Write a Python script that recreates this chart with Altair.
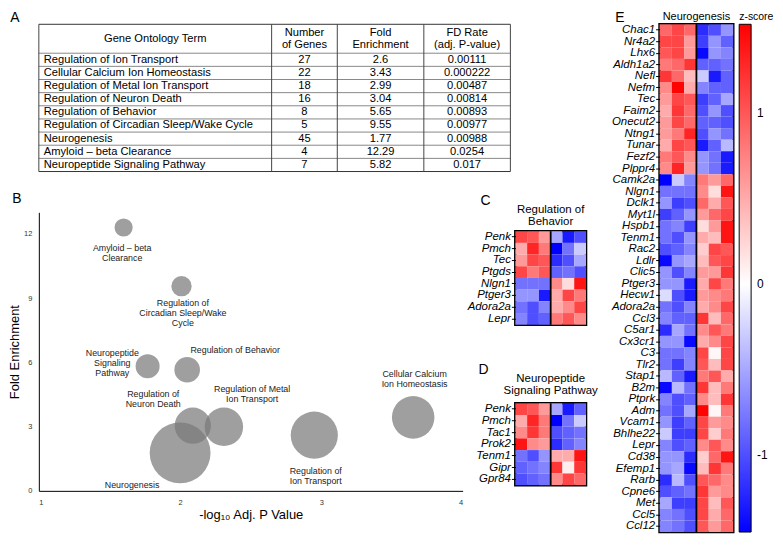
import altair as alt
import pandas as pd

FONT = "Liberation Sans"

# ---------------- Panel A: GO table ----------------
go_terms = ["Regulation of Ion Transport", "Cellular Calcium Ion Homeostasis",
            "Regulation of Metal Ion Transport", "Regulation of Neuron Death",
            "Regulation of Behavior", "Regulation of Circadian Sleep/Wake Cycle",
            "Neurogenesis", "Amyloid – beta Clearance", "Neuropeptide Signaling Pathway"]
n_genes = [27, 22, 18, 16, 8, 5, 45, 4, 7]
fold_enrichment = [2.6, 3.43, 2.99, 3.04, 5.65, 9.55, 1.77, 12.29, 5.82]
fd_rate = ["0.00111", "0.000222", "0.00487", "0.00814", "0.00893", "0.00977",
           "0.00988", "0.0254", "0.017"]
table_headers = ["Gene Ontology Term", "Number\nof Genes", "Fold\nEnrichment",
                 "FD Rate\n(adj. P-value)"]

# ---------------- Panel B: bubble chart ----------------
neg_log10_p = [2.95, 3.65, 2.31, 2.09, 2.05, 2.01, 2.00, 1.60, 1.77]
bubble_label_text = ["Regulation of\nIon Transport", "Cellular Calcium\nIon Homeostasis",
                     "Regulation of Metal\nIon Transport", "Regulation of\nNeuron Death",
                     "Regulation of Behavior", "Regulation of\nCircadian Sleep/Wake\nCycle",
                     "Neurogenesis", "Amyloid – beta\nClearance",
                     "Neuropeptide\nSignaling\nPathway"]
# anchor (first text line) of each bubble label, in data units
bubble_label_x = [2.96, 3.66, 2.51, 1.81, 2.39, 2.02, 1.66, 1.59, 1.52]
bubble_label_y = [0.93, 5.43, 4.74, 4.50, 6.59, 8.77, 0.28, 11.33, 6.45]

# ---------------- Heatmaps (z-scores; PBS x3, ZIKV x3) ----------------
samples = ["PBS", "PBS", "PBS", "ZIKV", "ZIKV", "ZIKV"]

behavior_title = "Regulation of\nBehavior"
behavior_genes = ["Penk", "Pmch", "Tec", "Ptgds", "Nlgn1", "Ptger3", "Adora2a", "Lepr"]
behavior_z = [
    [1.1, 1.0, 0.6, -0.5, -1.3, -1.0],
    [0.5, 1.3, 0.8, -1.5, -0.8, -0.3],
    [0.6, 1.1, 1.0, -1.2, -1.0, -0.5],
    [1.1, 0.8, 1.0, -0.9, -0.8, -1.0],
    [-0.8, -0.8, -0.8, 0.7, 0.2, 1.4],
    [-0.6, -0.6, -1.3, 0.5, 1.1, 0.8],
    [-0.8, -1.0, -0.7, 0.5, 0.7, 1.1],
    [-0.7, -1.0, -0.9, 0.8, 1.0, 0.7],
]

neuropep_title = "Neuropeptide\nSignaling Pathway"
neuropep_genes = ["Penk", "Pmch", "Tac1", "Prok2", "Tenm1", "Gipr", "Gpr84"]
neuropep_z = [
    [1.1, 1.0, 0.6, -0.5, -1.3, -0.9],
    [0.5, 1.3, 0.8, -1.5, -0.8, -0.3],
    [0.7, 1.2, 0.8, -1.0, -0.9, -0.8],
    [1.4, 0.7, 0.6, -1.2, -0.9, -0.7],
    [-0.8, -1.0, -0.6, 0.5, 0.5, 1.4],
    [-0.9, -0.8, -0.7, 1.2, 0.1, 1.2],
    [-1.0, -0.9, -0.8, 0.7, 1.1, 0.9],
]

neuro_title = "Neurogenesis"
neuro_genes = ["Chac1", "Nr4a2", "Lhx6", "Aldh1a2", "Nefl", "Nefm", "Tec", "Faim2",
               "Onecut2", "Ntng1", "Tunar", "Fezf2", "Plppr4", "Camk2a", "Nlgn1", "Dclk1",
               "Myt1l", "Hspb1", "Tenm1", "Rac2", "Ldlr", "Clic5", "Ptger3", "Hecw1",
               "Adora2a", "Ccl3", "C5ar1", "Cx3cr1", "C3", "Tlr2", "Stap1", "B2m", "Ptprk",
               "Adm", "Vcam1", "Bhlhe22", "Lepr", "Cd38", "Efemp1", "Rarb", "Cpne6", "Met",
               "Ccl5", "Ccl12"]
neuro_z = [
    [0.9, 1.1, 0.9, -1.2, -1.0, -0.6],
    [1.1, 1.1, 0.6, -1.1, -0.6, -0.9],
    [1.0, 1.1, 0.6, -1.4, -0.6, -0.7],
    [0.8, 0.9, 1.2, -0.9, -0.9, -0.8],
    [1.2, 0.9, 0.4, -0.3, -1.3, -0.9],
    [0.7, 1.5, 0.5, -0.7, -0.9, -0.9],
    [0.6, 1.1, 1.0, -1.1, -0.9, -0.5],
    [0.5, 1.2, 0.9, -1.0, -0.6, -1.0],
    [0.6, 1.1, 0.9, -0.9, -0.9, -1.0],
    [0.6, 0.8, 1.3, -1.0, -0.6, -0.8],
    [0.5, 1.1, 1.0, -1.3, -0.9, -0.4],
    [0.8, 1.0, 0.7, -0.6, -0.8, -1.3],
    [0.7, 1.3, 0.6, -0.6, -0.8, -1.3],
    [-1.5, -0.3, -0.7, 0.8, 0.6, 0.9],
    [-0.8, -0.8, -0.8, 0.7, 0.2, 1.4],
    [-0.6, -1.1, -1.0, 0.9, 0.5, 1.0],
    [-1.1, -0.9, -0.6, 0.6, 0.9, 1.1],
    [-0.8, -0.7, -1.1, 0.2, 0.6, 1.4],
    [-0.8, -1.0, -0.6, 0.5, 0.4, 1.4],
    [-1.0, -0.9, -0.7, 0.3, 1.1, 1.0],
    [-1.4, -0.6, -0.5, 0.4, 1.0, 1.1],
    [-0.6, -1.0, -0.7, 0.6, 0.6, 1.2],
    [-0.6, -0.6, -1.3, 0.5, 1.1, 0.8],
    [-0.2, -1.0, -1.3, 0.6, 0.7, 0.8],
    [-0.8, -1.0, -0.7, 0.5, 0.7, 1.1],
    [-0.7, -0.9, -0.9, 1.2, 0.4, 0.9],
    [-1.2, -0.5, -0.8, 0.7, 1.0, 0.8],
    [-0.6, -0.6, -1.4, 0.5, 0.7, 1.1],
    [-0.8, -0.8, -0.7, 1.1, 0.05, 1.1],
    [-0.8, -1.1, -0.7, 1.0, 0.4, 1.1],
    [-0.4, -0.9, -1.3, 0.8, 1.0, 0.5],
    [-1.4, -0.4, -0.8, 1.2, 0.4, 0.8],
    [-0.7, -1.0, -0.9, 0.7, 0.4, 1.2],
    [-0.8, -1.0, -0.5, 1.5, 0.05, 0.8],
    [-0.6, -1.1, -0.9, 1.1, 0.6, 0.7],
    [-0.3, -1.1, -1.1, 1.1, 0.3, 0.8],
    [-0.7, -1.0, -0.9, 0.7, 1.0, 0.7],
    [-0.6, -0.6, -1.2, 0.3, 0.9, 1.4],
    [-0.6, -0.5, -1.4, 0.4, 1.2, 0.8],
    [-1.2, -0.4, -1.0, 1.0, 0.9, 0.7],
    [-1.0, -0.9, -0.8, 1.2, 0.6, 0.7],
    [-0.5, -1.1, -1.1, 1.1, 0.4, 1.0],
    [-0.7, -0.8, -1.0, 1.1, 0.5, 0.9],
    [-0.7, -0.8, -1.0, 1.0, 0.6, 0.9],
]

zscale = alt.Scale(domain=[-1.45, 0, 1.52], range=["#0000ff", "#ffffff", "#ff0000"],
                   interpolate="rgb", clamp=True)


def text_layer(text, dx, dy, size=14, line_h=12.5, align="center"):
    return alt.Chart(pd.DataFrame({"t": [text]})).mark_text(
        fontSize=size, align=align, baseline="middle", color="black",
        lineBreak="\n", lineHeight=line_h
    ).encode(text="t:N", x=alt.value(dx), y=alt.value(dy))


# ---------------- build table ----------------
col_w = [234, 66, 87, 87]
col_x = [0]
for w in col_w:
    col_x.append(col_x[-1] + w)
TABLE_H = 148
HEADER_U = 2.2
n_rows = len(go_terms)
tot_u = HEADER_U + n_rows
px_per_u = TABLE_H / tot_u
LINE_H = 12
row_lines = [0, HEADER_U] + [HEADER_U + i + 1 for i in range(n_rows)]

hl = pd.DataFrame({"y": row_lines, "x0": 0, "x1": col_x[-1],
                   "c": ["#333" if (r == 0 or r == tot_u) else "#888" for r in row_lines]})
vl = pd.DataFrame({"x": col_x, "y0": 0, "y1": tot_u})

tx = alt.Scale(domain=[0, col_x[-1]], nice=False, zero=False)
ty = alt.Scale(domain=[0, tot_u], nice=False, zero=False, reverse=True)

hrules = alt.Chart(hl).mark_rule(strokeWidth=1).encode(
    x=alt.X("x0:Q", scale=tx, axis=None), x2="x1:Q",
    y=alt.Y("y:Q", scale=ty, axis=None), color=alt.Color("c:N", scale=None))
vrules = alt.Chart(vl).mark_rule(strokeWidth=1, color="#444").encode(
    x=alt.X("x:Q", scale=tx, axis=None),
    y=alt.Y("y0:Q", scale=ty, axis=None), y2="y1:Q")

head_df = pd.DataFrame({
    "t": table_headers,
    "x": [(col_x[i] + col_x[i + 1]) / 2 for i in range(4)],
    "y": [HEADER_U / 2 - h.count("\n") * (LINE_H / 2) / px_per_u for h in table_headers]})
head_txt = alt.Chart(head_df).mark_text(fontSize=11.2, lineBreak="\n", lineHeight=LINE_H,
                                        color="black", baseline="middle").encode(
    x=alt.X("x:Q", scale=tx, axis=None), y=alt.Y("y:Q", scale=ty, axis=None), text="t:N")

row_y = [HEADER_U + i + 0.5 for i in range(n_rows)]
term_df = pd.DataFrame({"t": go_terms, "x": col_x[0] + 5, "y": row_y})
term_txt = alt.Chart(term_df).mark_text(fontSize=11.2, align="left", color="black",
                                        baseline="middle").encode(
    x=alt.X("x:Q", scale=tx, axis=None), y=alt.Y("y:Q", scale=ty, axis=None), text="t:N")
num_rows = []
for i in range(n_rows):
    for c, val in ((1, str(n_genes[i])), (2, str(fold_enrichment[i])), (3, fd_rate[i])):
        num_rows.append({"t": val, "x": (col_x[c] + col_x[c + 1]) / 2, "y": row_y[i]})
num_txt = alt.Chart(pd.DataFrame(num_rows)).mark_text(fontSize=11.2, color="black",
                                                      baseline="middle").encode(
    x=alt.X("x:Q", scale=tx, axis=None), y=alt.Y("y:Q", scale=ty, axis=None), text="t:N")

chartA = alt.layer(hrules, vrules, head_txt, term_txt, num_txt,
                   text_layer("A", -24, -6)).properties(width=col_x[-1], height=TABLE_H)

# ---------------- build bubble chart ----------------
bub = pd.DataFrame({"term": go_terms, "x": neg_log10_p, "y": fold_enrichment, "n": n_genes})
bx = alt.Scale(domain=[1, 4], nice=False, zero=False)
by = alt.Scale(domain=[0, 13], nice=False, zero=False)
ax_common = dict(ticks=False, grid=False, domainColor="black", domainWidth=1,
                 labelFontSize=7.5, labelColor="#333", titleFontSize=13,
                 titleFontWeight="normal", titleColor="black")
circles = alt.Chart(bub).mark_circle(color="#7a7a7a", opacity=0.72).encode(
    x=alt.X("x:Q", scale=bx, axis=alt.Axis(values=[1, 2, 3, 4], format="d",
                                           title="-log₁₀ Adj. P Value", labelPadding=8,
                                           titlePadding=2, **ax_common)),
    y=alt.Y("y:Q", scale=by, axis=alt.Axis(values=[0, 3, 6, 9, 12], format="d",
                                           title="Fold Enrichment", labelPadding=7,
                                           titlePadding=2, **ax_common)),
    size=alt.Size("n:Q", scale=alt.Scale(domain=[0, 45], range=[0, 3740]), legend=None),
)
lab = pd.DataFrame({"t": bubble_label_text, "x": bubble_label_x, "y": bubble_label_y})
bub_labels = alt.Chart(lab).mark_text(fontSize=8.9, lineBreak="\n", lineHeight=10,
                                      color="#222", baseline="middle").encode(
    x=alt.X("x:Q", scale=bx), y=alt.Y("y:Q", scale=by), text="t:N")
chartB = alt.layer(circles, bub_labels, text_layer("B", -22, -13)).properties(
    width=426, height=280)


# ---------------- heatmap builder ----------------
def heatmap(genes, z, cell_w, cell_h, title, title_dy, title_size, letter, ldx, ldy,
            legend, extra=None):
    rows = [{"gene": g, "s": j, "z": v} for g, vals in zip(genes, z) for j, v in enumerate(vals)]
    df = pd.DataFrame(rows)
    ns = len(samples)
    n_pbs = samples.count("PBS")
    w = cell_w * ns
    h = cell_h * len(genes)
    xs = alt.Scale(domain=[0, ns], nice=False, zero=False)
    rect = alt.Chart(df).transform_calculate(s2="datum.s + 1").mark_rect().encode(
        x=alt.X("s:Q", scale=xs, axis=alt.Axis(
            values=[n_pbs / 2, n_pbs + (ns - n_pbs) / 2],
            labelExpr="datum.value < %d ? 'PBS' : 'ZIKV'" % n_pbs,
            ticks=False, domain=False, grid=False, title=None, labelFontSize=12,
            labelColor="black", labelPadding=3)),
        x2="s2:Q",
        y=alt.Y("gene:N", sort=genes, scale=alt.Scale(paddingInner=0, paddingOuter=0),
                axis=alt.Axis(title=None, labelFontStyle="italic", labelFontSize=11.5,
                              labelColor="black", ticks=True, tickSize=4, tickColor="black",
                              tickWidth=1, domain=False, labelPadding=1)),
        color=alt.Color("z:Q", scale=zscale, legend=legend),
    )
    divider = alt.Chart(pd.DataFrame({"b": [n_pbs]})).mark_rule(
        color="black", strokeWidth=1.8).encode(x=alt.X("b:Q", scale=xs, axis=None))
    layers = [rect, divider, text_layer(letter, ldx, ldy),
              text_layer(title, w / 2, title_dy, size=title_size)]
    if extra is not None:
        layers.append(extra(w))
    return alt.layer(*layers).properties(
        width=w, height=h,
        view=alt.ViewBackground(stroke="black", strokeWidth=2.6),
    )


chartC = heatmap(behavior_genes, behavior_z, 71 / 6, 11.75, behavior_title, -21.5, 11.5,
                 "C", -30, -30, None)
chartD = heatmap(neuropep_genes, neuropep_z, 71 / 6, 11.75, neuropep_title, -24.5, 11.5,
                 "D", -32, -33, None)

E_H = 11.6 * len(neuro_genes)
E_W = 74
legE = alt.Legend(title=None, orient="right", offset=6, direction="vertical",
                  gradientLength=E_H, gradientThickness=12,
                  gradientStrokeColor="black", gradientStrokeWidth=1, values=[-1, 0, 1],
                  labelExpr="datum.value < 0 ? '-' + format(-datum.value, 'd') : format(datum.value, 'd')",
                  labelFontSize=12, labelColor="black", labelOffset=6, padding=0)
chartE = heatmap(neuro_genes, neuro_z, E_W / 6, 11.6, neuro_title, -7.5, 11,
                 "E", -40, -6, legE,
                 extra=lambda w: text_layer("z-score", w + 6, -7.5, size=10.5, align="left"))

spacer = alt.Chart(pd.DataFrame({"v": [0]})).mark_point(opacity=0, size=1).encode(
    x=alt.value(0), y=alt.value(0)).properties(width=1, height=1)

cd_inner = alt.vconcat(chartC, chartD, spacing=34)
cd = alt.vconcat(spacer, cd_inner, spacing=-21)
row2 = alt.hconcat(chartB, cd, spacing=3)
left = alt.vconcat(chartA, row2, spacing=20)
chart = alt.hconcat(left, chartE, spacing=624, bounds="flush").resolve_scale(
    color="independent").properties(padding=0).configure(font=FONT).configure_view(stroke=None)

chart.save("out.html", embed_options={"renderer": "svg", "actions": False})
